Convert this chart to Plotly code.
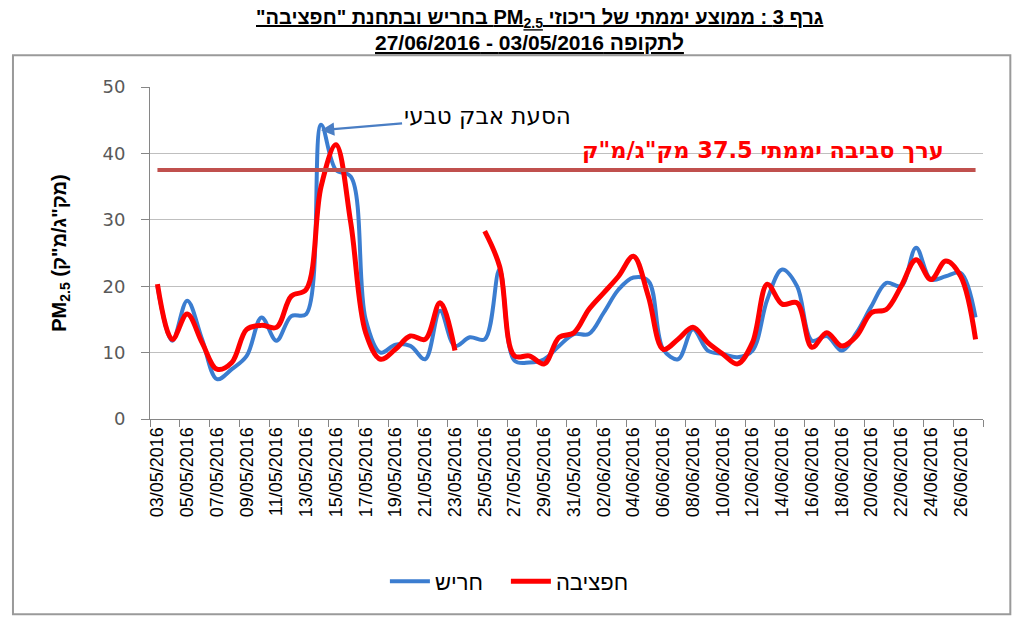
import plotly.graph_objects as go

dates = [
    "03/05/2016", "04/05/2016", "05/05/2016", "06/05/2016", "07/05/2016", "08/05/2016",
    "09/05/2016", "10/05/2016", "11/05/2016", "12/05/2016", "13/05/2016", "14/05/2016",
    "15/05/2016", "16/05/2016", "17/05/2016", "18/05/2016", "19/05/2016", "20/05/2016",
    "21/05/2016", "22/05/2016", "23/05/2016", "24/05/2016", "25/05/2016", "26/05/2016",
    "27/05/2016", "28/05/2016", "29/05/2016", "30/05/2016", "31/05/2016", "01/06/2016",
    "02/06/2016", "03/06/2016", "04/06/2016", "05/06/2016", "06/06/2016", "07/06/2016",
    "08/06/2016", "09/06/2016", "10/06/2016", "11/06/2016", "12/06/2016", "13/06/2016",
    "14/06/2016", "15/06/2016", "16/06/2016", "17/06/2016", "18/06/2016", "19/06/2016",
    "20/06/2016", "21/06/2016", "22/06/2016", "23/06/2016", "24/06/2016", "25/06/2016",
    "26/06/2016", "27/06/2016",
]

charish = [
    20, 11.8, 17.8, 12, 6, 7.5, 9.5, 15.3, 11.8, 15.5, 15.8, 44.3, 37.5, 36.5,
    15, 10, 11.2, 11, 9, 16.3, 11, 12.3, 12, 22.5, 8.8, 8.5, 9, 11,
    12.8, 12.8, 16, 19.5, 21.3, 20.8, 10.5, 9, 13.5, 10.3, 9.8, 9.3, 10.3, 18,
    22.5, 20, 11.8, 12.5, 10.3, 13, 17, 20.5, 20, 25.8, 21, 21.5, 22, 15.3,
]

hefziba = [
    20.3, 12, 15.8, 11.5, 7.5, 8.5, 13.5, 14.1, 13.8, 18.5, 19.5, 35, 41.3, 29.5,
    13, 9, 10.5, 12.5, 12, 17.5, 10.3, None, 28.3, 23, 9.5, 9.5, 8.3, 12.3,
    13, 16.5, 19, 21.5, 24.5, 18.5, 10.5, 12, 13.8, 11.5, 9.8, 8.3, 11.5, 20.3,
    17.3, 17.5, 10.8, 13, 11, 12.5, 16, 16.5, 20, 24, 21, 23.8, 21.5, 12,
]

THRESHOLD = 37.5
PEAK_DATE = "14/05/2016"
PEAK_VALUE = 43.5

y_ticks = [0, 10, 20, 30, 40, 50]

RLE = "\u202b"
PDF = "\u202c"

title_line1 = RLE + 'גרף 3 : ממוצע יממתי של ריכוזי PM<sub>2.5</sub> בחריש ובתחנת "חפציבה"' + PDF
title_line2 = "לתקופה 03/05/2016 - 27/06/2016"

FONT = "Liberation Sans, Arial, sans-serif"
WIDE = "DejaVu Sans, Liberation Sans, sans-serif"

# page has an 8px body margin, so the figure is 1016x617 placed at (8, 8)
W, H = 1016, 617

fig = go.Figure()

fig.add_trace(go.Scatter(
    x=dates, y=charish, name="חריש", mode="lines",
    line=dict(color="#3B7DD0", width=4, shape="spline", smoothing=1.0),
))
fig.add_trace(go.Scatter(
    x=dates, y=hefziba, name="חפציבה", mode="lines",
    line=dict(color="#FF0000", width=5, shape="spline", smoothing=1.0),
    connectgaps=False,
))

fig.add_shape(type="line", xref="x", yref="y", x0=dates[0], x1=dates[-1],
              y0=THRESHOLD, y1=THRESHOLD, line=dict(color="#C0504D", width=4),
              layer="above")

# outer chart border
fig.add_shape(type="rect", xref="paper", yref="paper",
              x0=-0.1645, x1=1.0328, y0=-0.588, y1=1.0953,
              line=dict(color="#9A9A9A", width=2), fillcolor="rgba(0,0,0,0)",
              layer="below")

# title lines
fig.add_annotation(
    x=0.468, y=1.2066, xref="paper", yref="paper", xanchor="center", yanchor="middle",
    text=title_line1, showarrow=False,
    font=dict(family=FONT, size=20, color="#000000", weight="bold", lineposition="under"),
)
fig.add_annotation(
    x=0.456, y=1.134, xref="paper", yref="paper", xanchor="center", yanchor="middle",
    text=title_line2, showarrow=False,
    font=dict(family=FONT, size=21, color="#000000", weight="bold", lineposition="under"),
)

fig.add_annotation(
    x=PEAK_DATE, y=PEAK_VALUE, xref="x", yref="y",
    text="הסעת אבק טבעי", showarrow=True,
    ax=166, ay=-14, axref="pixel", ayref="pixel",
    arrowhead=2, arrowsize=1.2, arrowwidth=2.2, arrowcolor="#4A7EC4",
    font=dict(family=WIDE, size=23, color="#000000"),
)

fig.add_annotation(
    x=0.736, y=0.855, xref="paper", yref="paper", xanchor="center",
    text="ערך סביבה יממתי 37.5 מק\"ג/מ\"ק", showarrow=False,
    font=dict(family=WIDE, size=22.5, color="#FF0000", weight="bold"),
)

fig.update_layout(
    width=W, height=H,
    paper_bgcolor="white", plot_bgcolor="white",
    margin=dict(l=142, r=41, t=79, b=206, autoexpand=False),
    showlegend=True,
    legend=dict(
        orientation="h", x=0.282, xanchor="left", y=-0.489, yanchor="middle",
        font=dict(family=FONT, size=22, color="#000000"),
        bgcolor="rgba(0,0,0,0)", itemwidth=40, entrywidth=66,
    ),
    font=dict(family=FONT),
)

fig.update_xaxes(
    type="category", categoryorder="array", categoryarray=dates,
    range=[-0.5, len(dates) - 0.5],
    tickmode="linear", tick0=0, dtick=2, tickson="boundaries",
    ticks="outside", ticklen=7, tickcolor="#868686",
    tickangle=-90, tickfont=dict(family=FONT, size=18, color="#000000"),
    showline=True, linecolor="#868686", linewidth=1,
    showgrid=False, zeroline=False,
)

fig.update_yaxes(
    range=[0, 50], tickmode="array", tickvals=y_ticks,
    ticks="outside", ticklen=8, tickcolor="#868686", ticklabelstandoff=12,
    tickfont=dict(family=WIDE, size=18, color="#595959"),
    showline=True, linecolor="#868686", linewidth=1,
    showgrid=True, gridcolor="#BFBFBF", gridwidth=1, zeroline=False,
    title=dict(text="PM<sub>2.5</sub> (מק\"ג/מ\"ק)", standoff=30,
               font=dict(family=FONT, size=20, color="#000000", weight="bold")),
)

fig.write_html("out.html")
